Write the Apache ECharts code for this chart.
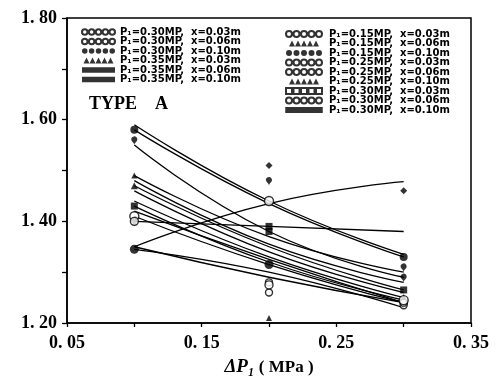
<!DOCTYPE html>
<html>
<head>
<meta charset="utf-8">
<script src="https://cdn.jsdelivr.net/npm/echarts@6/dist/echarts.min.js"></script>
<style>
  html, body { margin: 0; padding: 0; background: #fff; }
  #chart { width: 500px; height: 382px; }
</style>
</head>
<body>
<div id="chart"></div>
<script>
// x positions of the measurements (ΔP, MPa)
const xPoints = [0.10, 0.20, 0.30];

const seriesNames = [
  'P₁=0.30MP,  x=0.03m', 'P₁=0.30MP,  x=0.06m', 'P₁=0.30MP,  x=0.10m',
  'P₁=0.35MP,  x=0.03m', 'P₁=0.35MP,  x=0.06m', 'P₁=0.35MP,  x=0.10m',
  'P₁=0.15MP,  x=0.03m', 'P₁=0.15MP,  x=0.06m', 'P₁=0.15MP,  x=0.10m',
  'P₁=0.25MP,  x=0.03m', 'P₁=0.25MP,  x=0.06m', 'P₁=0.25MP,  x=0.10m',
  'P₁=0.30MP,  x=0.03m', 'P₁=0.30MP,  x=0.06m', 'P₁=0.30MP,  x=0.10m'
];

// fitted curves, values at x = 0.10 / 0.20 / 0.30
const fitCurves = [
  [1.42, 1.325, 1.24],
  [1.345, 1.30, 1.23],
  [1.59, 1.44, 1.335],
  [1.47, 1.35, 1.265],
  [1.46, 1.34, 1.26],
  [1.40, 1.39, 1.38],
  [1.35, 1.29, 1.24],
  [1.49, 1.37, 1.30],
  [1.55, 1.38, 1.29],
  [1.58, 1.435, 1.33],
  [1.41, 1.315, 1.24],
  [1.48, 1.355, 1.28],
  [1.35, 1.435, 1.478],
  [1.43, 1.32, 1.245],
  [1.44, 1.33, 1.25]
];

// measured points (null = no mark)
const measured = [
  [null, 1.28, 1.24],
  [null, 1.26, 1.235],
  [1.58, null, 1.33],
  [1.47, null, 1.25],
  [1.43, 1.38, 1.265],
  [1.345, 1.315, null],
  [null, null, 1.24],
  [1.49, 1.21, null],
  [1.55, 1.47, 1.28],
  [1.41, 1.44, 1.245],
  [null, 1.275, null],
  [1.39, null, 1.30],
  [null, 1.51, 1.46],
  [1.40, null, null],
  [null, 1.39, null]
];

// marker look for each series
const markerShapes = [
  'circle', 'circle', 'circle', 'triangle', 'rect', 'circle',
  'circle', 'triangle', 'pin', 'circle', 'circle', 'pin',
  'diamond', 'circle', 'rect'
];
const markerSizes = [7, 7, 8, 7, 7, 9, 7, 6, 10, 9, 8, 10, 7, 8, 7];
const openMarks = [true, true, false, false, false, false, true, false, false, true, true, false, false, true, false];

// legend row icons (rows of little marks)
const row = (fn) => [0, 1, 2, 3, 4].map(fn).join(' ');
const icons = {
  rings: 'path://' + row(i => `M${1 + 10 * i},5a4,4 0 1,0 8,0a4,4 0 1,0 -8,0Z`),
  tris: 'path://' + row(i => `M${10 * i},10L${10 * i + 5},0L${10 * i + 10},10Z`),
  bar: 'path://M0,1L50,1L50,9L0,9Z',
  squares: 'path://' + row(i => `M${10 * i + 1},1L${10 * i + 9},1L${10 * i + 9},9L${10 * i + 1},9Z`)
};
const legendIcons = [
  icons.rings, icons.rings, icons.rings, icons.tris, icons.bar, icons.bar,
  icons.rings, icons.tris, icons.rings, icons.rings, icons.rings, icons.tris,
  icons.squares, icons.rings, icons.bar
];

const chart = echarts.init(document.getElementById('chart'));

const scatterSeries = seriesNames.map((name, i) => ({
  name: name,
  type: 'scatter',
  symbol: markerShapes[i],
  symbolSize: markerSizes[i],
  itemStyle: openMarks[i]
    ? { color: '#fff', borderColor: '#000', borderWidth: 1.4 }
    : { color: '#000' },
  data: xPoints.map((x, k) => measured[i][k] == null ? null : [x, measured[i][k]]).filter(d => d),
  z: 3
}));

const lineSeries = seriesNames.map((name, i) => ({
  name: name,
  type: 'line',
  smooth: 0.5,
  showSymbol: false,
  lineStyle: { color: '#000', width: 1.3 },
  data: xPoints.map((x, k) => [x, fitCurves[i][k]]),
  z: 2
}));

const legendBase = {
  orient: 'vertical',
  itemGap: -0.5,
  itemHeight: 6,
  selectedMode: false,
  textStyle: {
    fontFamily: 'DejaVu Sans',
    fontWeight: 'bold',
    fontSize: 10,
    lineHeight: 7.8,
    color: '#000'
  }
};

const option = {
  animation: false,
  backgroundColor: '#fff',
  title: {
    text: 'TYPE    A',
    left: 84,
    top: 90,
    textStyle: { fontFamily: 'Liberation Serif', fontWeight: 'bold', fontSize: 18, color: '#000' }
  },
  legend: [
    Object.assign({}, legendBase, {
      left: 76, top: 22, itemWidth: 33, itemTextGap: 10,
      data: seriesNames.slice(0, 6).map((n, i) => ({ name: n, icon: legendIcons[i] }))
    }),
    Object.assign({}, legendBase, {
      left: 280, top: 24, itemWidth: 40, itemTextGap: 5,
      data: seriesNames.slice(6).map((n, i) => ({ name: n, icon: legendIcons[i + 6] }))
    })
  ],
  grid: {
    left: 67, right: 29, top: 18, bottom: 57,
    show: true, borderColor: '#000', borderWidth: 1.5, containLabel: false
  },
  xAxis: {
    type: 'value',
    min: 0.05, max: 0.35, interval: 0.05,
    name: '{a|ΔP₁}{b| ( MPa )}',
    nameLocation: 'middle',
    nameGap: 35,
    nameTextStyle: {
      rich: {
        a: { fontFamily: 'Liberation Serif', fontStyle: 'italic', fontWeight: 'bold', fontSize: 19, color: '#000' },
        b: { fontFamily: 'Liberation Serif', fontWeight: 'bold', fontSize: 17, color: '#000' }
      }
    },
    axisLine: { lineStyle: { color: '#000', width: 1.5 } },
    axisTick: { length: 4, lineStyle: { color: '#000', width: 1.3 } },
    splitLine: { show: false },
    axisLabel: {
      margin: 11,
      fontFamily: 'Liberation Serif', fontWeight: 'bold', fontSize: 18, color: '#000',
      formatter: v => Math.round(v * 100) % 10 === 5 ? v.toFixed(2).replace('.', '. ') : ''
    }
  },
  yAxis: {
    type: 'value',
    min: 1.2, max: 1.8, interval: 0.1,
    axisLine: { show: true, lineStyle: { color: '#000', width: 1.5 } },
    axisTick: { show: true, length: 5, lineStyle: { color: '#000', width: 1.3 } },
    splitLine: { show: false },
    axisLabel: {
      margin: 10,
      fontFamily: 'Liberation Serif', fontWeight: 'bold', fontSize: 18, color: '#000',
      formatter: v => Math.round(v * 10) % 2 === 0 ? v.toFixed(2).replace('.', '. ') : ''
    }
  },
  series: scatterSeries.concat(lineSeries)
};

chart.setOption(option);
</script>
</body>
</html>
